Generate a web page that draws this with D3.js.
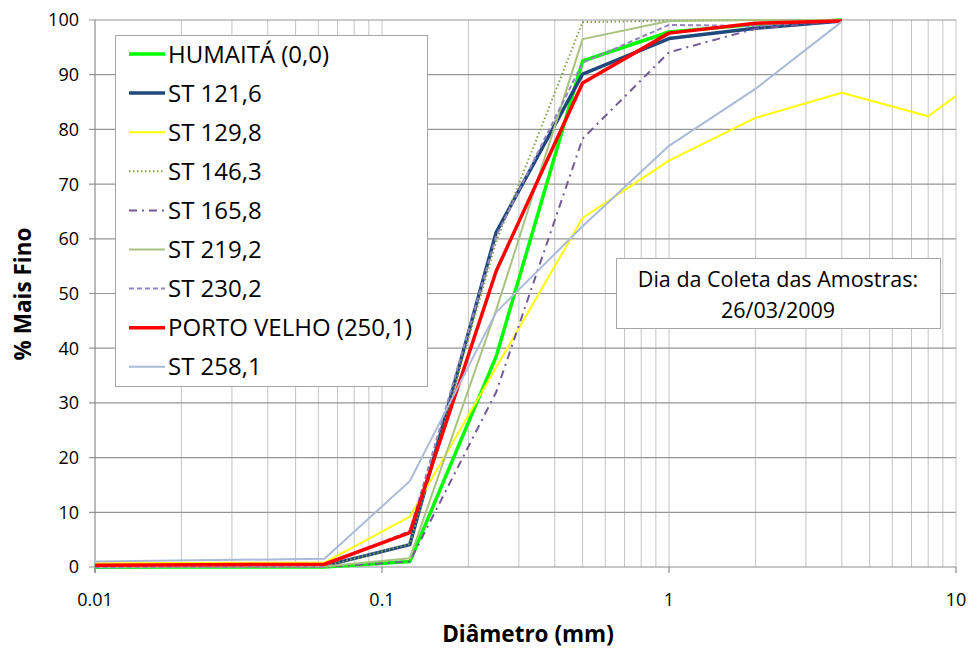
<!DOCTYPE html>
<html>
<head>
<meta charset="utf-8">
<script src="https://cdn.jsdelivr.net/npm/d3@7"></script>
<style>
  body { margin: 0; background: #fff; }
  text { font-family: "Open Sans", Lato, sans-serif; fill: #000; }
</style>
</head>
<body>
<script>
// diameters (mm) of the sieves
var diametros = [0.01, 0.063, 0.125, 0.25, 0.5, 1, 2, 4];
var diametrosLongo = [0.01, 0.063, 0.125, 0.25, 0.5, 1, 2, 4, 8, 16];

var nomes = ["HUMAITÁ (0,0)", "ST 121,6", "ST 129,8", "ST 146,3", "ST 165,8",
             "ST 219,2", "ST 230,2", "PORTO VELHO (250,1)", "ST 258,1"];

var humaita   = [0, 0, 1.0, 38.5, 92.5, 97.8, 99.2, 100];
var st1216    = [0.1, 0.2, 4.1, 61.2, 90.1, 96.6, 98.5, 99.8];
var st1298    = [0.7, 0.8, 9.2, 36.5, 63.8, 74.3, 82.1, 86.7, 82.4, 93.9];
var st1463    = [0, 0.1, 4.2, 59.5, 99.6, 99.9, 100, 100];
var st1658    = [0, 0, 1.0, 32, 78.3, 94.1, 98.4, 99.8];
var st2192    = [0, 0.1, 1.6, 47, 96.5, 99.8, 100, 100];
var st2302    = [0, 0.2, 6.6, 60.5, 92.2, 99.1, 98.9, 100];
var portoVelho = [0.3, 0.5, 6.3, 54.1, 88.5, 97.6, 99.4, 99.8];
var st2581    = [1.0, 1.5, 15.7, 46.6, 62.3, 77.0, 87.4, 99.7];

var yTicks = [0, 10, 20, 30, 40, 50, 60, 70, 80, 90, 100];
var xTicks = [0.01, 0.1, 1, 10];

var width = 971, height = 650;
var plotLeft = 95, plotRight = 956, plotTop = 20, plotBottom = 567;

var series = [
  {name: nomes[0], x: diametros, y: humaita,    color: "#00ff00", w: 3.5, dash: null},
  {name: nomes[1], x: diametros, y: st1216,     color: "#1f497d", w: 3.5, dash: null},
  {name: nomes[2], x: diametrosLongo, y: st1298, color: "#ffff00", w: 2, dash: null},
  {name: nomes[3], x: diametros, y: st1463,     color: "#82a34a", w: 2, dash: "1.5,2.5"},
  {name: nomes[4], x: diametros, y: st1658,     color: "#705994", w: 2, dash: "8,5,2,5"},
  {name: nomes[5], x: diametros, y: st2192,     color: "#a9c27f", w: 2, dash: null},
  {name: nomes[6], x: diametros, y: st2302,     color: "#9484bd", w: 2, dash: "5,3"},
  {name: nomes[7], x: diametros, y: portoVelho, color: "#ff0000", w: 3.5, dash: null},
  {name: nomes[8], x: diametros, y: st2581,     color: "#a9bbd9", w: 2, dash: null}
];
series[4].color = "#725a96";

var svg = d3.select("body").append("svg")
  .attr("width", width)
  .attr("height", height);

var x = d3.scaleLog().domain([0.01, 10]).range([plotLeft, plotRight]);
var y = d3.scaleLinear().domain([0, 100]).range([plotBottom, plotTop]);

// minor vertical grid
var minors = [];
[0.01, 0.1, 1].forEach(function(d) {
  for (var k = 1; k <= 9; k++) minors.push(k * d);
});
minors.push(10);

svg.append("g")
  .selectAll("line")
  .data(minors.filter(function(d) { return d > 0.01; }))
  .enter().append("line")
  .attr("x1", function(d) { return x(d); })
  .attr("x2", function(d) { return x(d); })
  .attr("y1", plotTop)
  .attr("y2", plotBottom)
  .attr("stroke", "#c4c4c4")
  .attr("stroke-width", 1);

// horizontal grid
svg.append("g")
  .selectAll("line")
  .data(yTicks.filter(function(d) { return d > 0; }))
  .enter().append("line")
  .attr("x1", plotLeft - 6)
  .attr("x2", plotRight)
  .attr("y1", function(d) { return y(d); })
  .attr("y2", function(d) { return y(d); })
  .attr("stroke", "#969696")
  .attr("stroke-width", 1.2);

// axes lines
svg.append("line")
  .attr("x1", plotLeft).attr("x2", plotLeft).attr("y1", plotTop).attr("y2", plotBottom + 6)
  .attr("stroke", "#8c8c8c").attr("stroke-width", 1.2);
svg.append("line")
  .attr("x1", plotLeft - 6).attr("x2", plotRight).attr("y1", plotBottom).attr("y2", plotBottom)
  .attr("stroke", "#8c8c8c").attr("stroke-width", 1.2);

svg.append("g")
  .selectAll("line")
  .data(xTicks)
  .enter().append("line")
  .attr("x1", function(d) { return x(d); })
  .attr("x2", function(d) { return x(d); })
  .attr("y1", plotBottom)
  .attr("y2", plotBottom + 6)
  .attr("stroke", "#8c8c8c")
  .attr("stroke-width", 1.2);

// tick labels
svg.append("g")
  .selectAll("text")
  .data(yTicks)
  .enter().append("text")
  .attr("x", plotLeft - 16)
  .attr("y", function(d) { return y(d); })
  .attr("dy", "0.36em")
  .attr("text-anchor", "end")
  .style("font-size", "18px")
  .text(function(d) { return d; });

svg.append("g")
  .selectAll("text")
  .data(xTicks)
  .enter().append("text")
  .attr("x", function(d) { return x(d); })
  .attr("y", plotBottom + 39)
  .attr("text-anchor", "middle")
  .style("font-size", "18px")
  .text(function(d) { return d; });

// axis titles
svg.append("text")
  .attr("x", 528)
  .attr("y", 642)
  .attr("text-anchor", "middle")
  .style("font-size", "22.5px")
  .style("font-weight", "bold")
  .text("Diâmetro (mm)");

svg.append("text")
  .attr("transform", "translate(31,294) rotate(-90)")
  .attr("text-anchor", "middle")
  .style("font-size", "22.5px")
  .style("font-weight", "bold")
  .text("% Mais Fino");

// lines
svg.append("clipPath").attr("id", "clip")
  .append("rect")
  .attr("x", plotLeft).attr("y", plotTop - 4)
  .attr("width", plotRight - plotLeft).attr("height", plotBottom - plotTop + 8);

var line = d3.line()
  .x(function(d) { return x(d[0]); })
  .y(function(d) { return y(d[1]); });

svg.append("g")
  .attr("clip-path", "url(#clip)")
  .selectAll("path")
  .data(series)
  .enter().append("path")
  .attr("d", function(s) { return line(d3.zip(s.x, s.y)); })
  .attr("fill", "none")
  .attr("stroke", function(s) { return s.color; })
  .attr("stroke-width", function(s) { return s.w; })
  .attr("stroke-dasharray", function(s) { return s.dash; })
  .attr("stroke-linejoin", "round");

// legend
var legend = svg.append("g");
legend.append("rect")
  .attr("x", 115.5).attr("y", 35.5)
  .attr("width", 312).attr("height", 351)
  .attr("fill", "#fff")
  .attr("stroke", "#a6a6a6");

var item = legend.selectAll("g.item")
  .data(series)
  .enter().append("g")
  .attr("class", "item")
  .attr("transform", function(d, i) { return "translate(0," + (54 + i * 39.1) + ")"; });

item.append("line")
  .attr("x1", 129).attr("x2", 165)
  .attr("y1", 0).attr("y2", 0)
  .attr("stroke", function(s) { return s.color; })
  .attr("stroke-width", function(s) { return s.w; })
  .attr("stroke-dasharray", function(s) { return s.dash; });

item.append("text")
  .attr("x", 168)
  .attr("y", 0)
  .attr("dy", "0.36em")
  .style("font-size", "24px")
  .text(function(s) { return s.name; });

// note box
var nota = svg.append("g");
nota.append("rect")
  .attr("x", 616.5).attr("y", 258.5)
  .attr("width", 324).attr("height", 70)
  .attr("fill", "#fff")
  .attr("stroke", "#a6a6a6");
nota.append("text")
  .attr("x", 778).attr("y", 287)
  .attr("text-anchor", "middle")
  .style("font-size", "21.5px")
  .text("Dia da Coleta das Amostras:");
nota.append("text")
  .attr("x", 778).attr("y", 318)
  .attr("text-anchor", "middle")
  .style("font-size", "21.5px")
  .text("26/03/2009");
</script>
</body>
</html>
